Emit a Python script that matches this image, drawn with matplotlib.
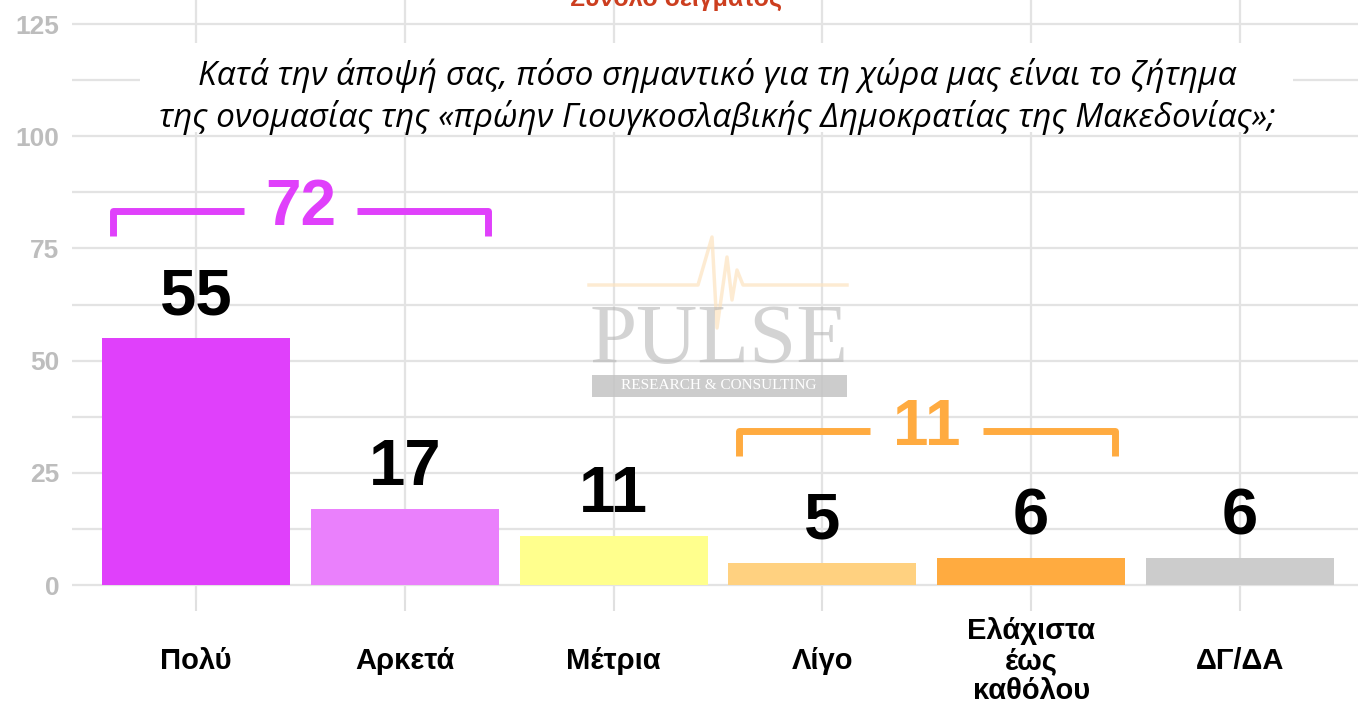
import numpy as np
import matplotlib.pyplot as plt
from matplotlib.patches import Rectangle

# data
categories = ['Πολύ', 'Αρκετά', 'Μέτρια', 'Λίγο', 'Ελάχιστα\nέως\nκαθόλου', 'ΔΓ/ΔΑ']
values = [55, 17, 11, 5, 6, 6]
colors = ['#e040fb', '#ea80fc', '#ffff8d', '#ffd180', '#ffab40', '#cccccc']
groups = [(0, 1, '#e040fb'), (3, 4, '#ffab40')]  # bracketed sums

W, H = 1358, 711
fig = plt.figure(figsize=(W / 100, H / 100), dpi=100)
plt.rcParams['font.family'] = ['Liberation Sans', 'DejaVu Sans']


def fx(px):
    return px / W


def fy(py):
    return 1 - py / H


ax = fig.add_axes([fx(72), fy(600), fx(W - 72), 600 / H])
x = np.arange(1, len(values) + 1)
ax.bar(x, values, width=0.9, color=colors, zorder=3)

ax.set_xlim(0.406, 6.565)
ax.set_ylim(-3.34, 130.35)
ax.set_yticks([0, 25, 50, 75, 100, 125])
ax.set_yticks(np.arange(12.5, 125, 25), minor=True)
ax.set_xticks(x)
ax.set_xticklabels(categories, fontsize=21, fontweight='bold', va='center', linespacing=1.1)
ax.tick_params(axis='x', length=8, width=1.5, color='#e0e0e0', pad=36)
ax.tick_params(axis='y', which='both', length=0, pad=9, labelsize=19, labelcolor='#bdbdbd')
for lab in ax.get_yticklabels():
    lab.set_fontweight('bold')
ax.grid(True, which='both', color='#e3e3e3', linewidth=1.6, zorder=0)
ax.set_axisbelow(True)
for s in ax.spines.values():
    s.set_visible(False)

# value labels
for xi, v in zip(x, values):
    ax.annotate(str(v), (xi, v), xytext=(0, 17), textcoords='offset points',
                ha='center', va='baseline', fontsize=47, fontweight='bold', zorder=5)

# brackets with group totals
for i, j, c in groups:
    total = sum(values[i:j + 1])
    top = max(values[i:j + 1]) + 28.3
    x0, x1 = x[i] - 0.4, x[j] + 0.4
    xm = (x0 + x1) / 2
    kw = dict(color=c, linewidth=5, solid_capstyle='butt', zorder=5)
    ax.plot([x0, x0, xm - 0.27], [top - 5.6, top, top], **kw)
    ax.plot([xm + 0.27, x1, x1], [top, top, top - 5.6], **kw)
    ax.text(xm, top - 3, str(total), ha='center', va='baseline', fontsize=46,
            fontweight='bold', color=c, zorder=5)

# watermark
wm_x = [589, 698, 712, 717, 727, 732, 737, 743, 847]
wm_y = [285, 285, 237, 328, 257, 300, 270, 285, 285]
fig.add_artist(plt.Line2D([fx(p) for p in wm_x], [fy(p) for p in wm_y], color='#fde3c0',
                          linewidth=2.5, alpha=0.7, zorder=1))
fig.text(fx(719), fy(363), 'PULSE', family='Liberation Serif', fontsize=61,
         color='#b0b0b0', alpha=0.55, ha='center', va='baseline', zorder=2)
fig.add_artist(Rectangle((fx(592), fy(397)), fx(255), 22 / H, transform=fig.transFigure,
                         facecolor='#c4c4c4', alpha=0.85, edgecolor='none', zorder=2))
fig.text(fx(719), fy(386), 'RESEARCH & CONSULTING', family='Liberation Serif', fontsize=11,
         color='white', ha='center', va='center', zorder=3)

# subtitle with white box
fig.add_artist(Rectangle((fx(140), fy(132)), fx(1153), 89 / H, transform=fig.transFigure,
                         facecolor='white', edgecolor='none', zorder=2))
fig.text(fx(717), fy(85), 'Κατά την άποψή σας, πόσο σημαντικό για τη χώρα μας είναι το ζήτημα',
         family=['Open Sans', 'DejaVu Sans'], style='italic', fontsize=24, ha='center',
         va='baseline', zorder=3)
fig.text(fx(717), fy(127), 'της ονομασίας της «πρώην Γιουγκοσλαβικής Δημοκρατίας της Μακεδονίας»;',
         family=['Open Sans', 'DejaVu Sans'], style='italic', fontsize=24, ha='center',
         va='baseline', zorder=3)

# cut-off title (partly above the top edge, as in the source image)
fig.text(fx(676), fy(6), 'Σύνολο δείγματος', fontsize=18, fontweight='bold',
         color='#cc3e1f', ha='center', va='baseline')

fig.savefig('out.png', dpi=100, facecolor='white')
